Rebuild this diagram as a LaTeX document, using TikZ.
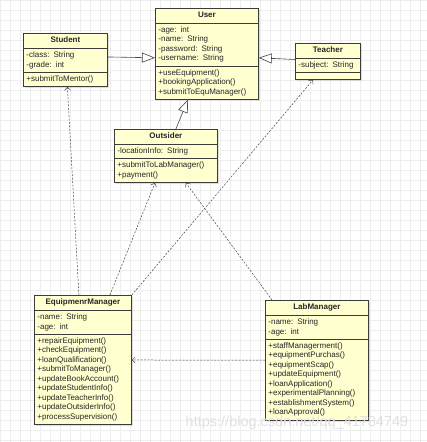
\documentclass[tikz,border=0pt]{standalone}
\usepackage{fontspec}
\setmainfont{Liberation Sans}
\usepackage{tikz}
\usetikzlibrary{arrows.meta, shapes.multipart, shadows}
\usepackage{xcolor}
\definecolor{classBg}{RGB}{255, 255, 208}
\definecolor{classLine}{RGB}{60, 60, 60}
\definecolor{gridLine}{RGB}{238, 238, 238}
\definecolor{linkLine}{RGB}{70, 70, 70}

% bold, centred class name with a fixed height
\newcommand{\classtitle}[1]{\hbox to \hsize{\hfil\rule[-2.5pt]{0pt}{7.5pt}\textbf{#1}\hfil}}

\begin{document}
\begin{tikzpicture}[x=1pt, y=-1pt, font=\fontsize{8}{9.5}\selectfont,
  umlclass/.style={draw=classLine, line width=0.8pt, fill=classBg,
    anchor=north west, text=black!85,
    rectangle split, rectangle split parts=3,
    rectangle split empty part height=0pt, rectangle split empty part depth=0pt,
    inner xsep=3pt, inner ysep=3pt,
    drop shadow={shadow xshift=1.5pt, shadow yshift=-1.5pt, fill=black!25}},
  inherit/.style={draw=linkLine, line width=0.6pt,
    -{Triangle[open, length=13pt, width=10pt, fill=white]}},
  depend/.style={draw=linkLine, line width=0.5pt, dash pattern=on 2pt off 1.5pt,
    -{Straight Barb[length=3pt, width=6pt]}}]
  \useasboundingbox (0,0) rectangle (427,442);

  % background grid
  \draw[gridLine, step=10pt] (0,0) grid (427,442);

  % Classes
  \node[umlclass, text width=97pt] (user) at (155,8)
    {\classtitle{User}
     \nodepart{second} -age: int\\ -name: String\\ -password: String\\ -username: String
     \nodepart{third} +useEquipment()\\ +bookingApplication()\\ +submitToEquManager()};

  \node[umlclass, text width=78pt] (student) at (23,33)
    {\classtitle{Student}
     \nodepart{second} -class: String\\ -grade: int
     \nodepart{third} +submitToMentor()};

  \node[umlclass, text width=59pt] (teacher) at (295,43)
    {\classtitle{Teacher}
     \nodepart{second} -subject: String
     \nodepart{third}};

  \node[umlclass, text width=97pt] (outsider) at (114,129)
    {\classtitle{Outsider}
     \nodepart{second} -locationInfo: String
     \nodepart{third} +submitToLabManager()\\ +payment()};

  \node[umlclass, text width=91pt] (equman) at (34,295)
    {\classtitle{EquipmenrManager}
     \nodepart{second} -name: String\\ -age: int
     \nodepart{third} +repairEquipment()\\ +checkEquipment()\\ +loanQualification()\\
       +submitToManager()\\ +updateBookAccount()\\ +updateStudentInfo()\\
       +updateTeacherInfo()\\ +updateOutsiderInfo()\\ +processSupervision()};

  \node[umlclass, text width=97pt] (labman) at (265,300)
    {\classtitle{LabManager}
     \nodepart{second} -name: String\\ -age: int
     \nodepart{third} +staffManagerment()\\ +equipmentPurchas()\\ +equipmentScap()\\
       +updateEquipment()\\ +loanApplication()\\ +experimentalPlanning()\\
       +establishmentSystem()\\ +loanApproval()};

  % Generalisation
  \draw[inherit] ([yshift=3pt]student.east) -- ([yshift=-4pt]user.west);
  \draw[inherit] ([yshift=2pt]teacher.west) -- ([yshift=-4pt]user.east);
  \draw[inherit] ([xshift=10pt]outsider.north) -- ([xshift=-19pt]user.south);

  % Dependencies
  \draw[depend] ([xshift=-4pt]equman.north) -- ([xshift=2pt]student.south);
  \draw[depend] ([xshift=27pt]equman.north) -- ([xshift=-11pt]outsider.south);
  \draw[depend] (equman.north east) -- ([xshift=-15pt]teacher.south);
  \draw[depend] ([xshift=7pt]labman.north west) -- ([xshift=20pt]outsider.south);
  \draw[depend] (labman.west) -- (equman.east);

  \node[text=black!12, font=\fontsize{14.5}{14.5}\selectfont] (mark) at (297,423)
    {https://blog.csdn.net/qq\_41784749};
\end{tikzpicture}
\end{document}
